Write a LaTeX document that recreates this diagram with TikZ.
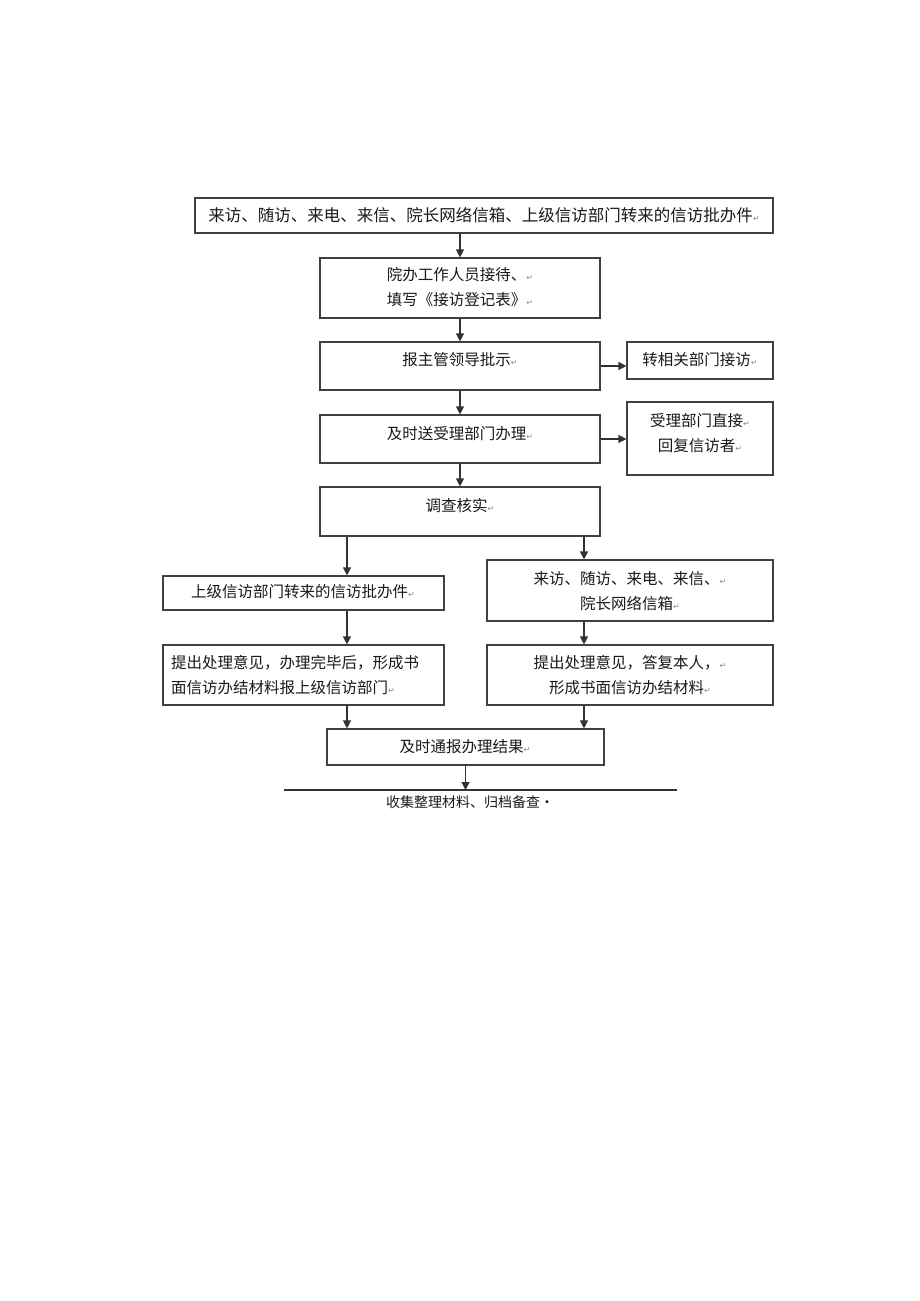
\documentclass[tikz,border=0pt]{standalone}
\usepackage{fontspec}
\setmainfont{Noto Sans CJK SC}
\newfontfamily\symfont{DejaVu Sans}
\usetikzlibrary{arrows.meta}
\newcommand\parmk{{\symfont\color{black!45}\fontsize{8}{8}\selectfont ↵}}
\begin{document}
\begin{tikzpicture}[x=1pt,y=-1pt,
  box/.style={draw=black!75, line width=1.2pt, rectangle, inner sep=0pt},
  txt/.style={font=\fontsize{15.5}{25}\selectfont, align=center, inner sep=0pt, text=black!90},
  arr/.style={draw=black!80, line width=1.3pt, -{Triangle[length=8pt,width=8pt]}},
  rule/.style={draw=black!80, line width=1.2pt}]
\fill[white] (0,0) rectangle (920,1301);
\useasboundingbox (0,0) rectangle (920,1301);
% boxes
\node[box, minimum width=578, minimum height=35] (b1) at (484,215.5) {};
\node[box, minimum width=280, minimum height=60] (b2) at (460,288) {};
\node[box, minimum width=280, minimum height=48] (b3) at (460,366) {};
\node[box, minimum width=146, minimum height=37] (sA) at (700,360.5) {};
\node[box, minimum width=280, minimum height=48] (b4) at (460,439) {};
\node[box, minimum width=146, minimum height=73] (sB) at (700,438.5) {};
\node[box, minimum width=280, minimum height=49] (b5) at (460,511.5) {};
\node[box, minimum width=281, minimum height=34] (L1) at (303.5,593) {};
\node[box, minimum width=286, minimum height=61] (R1) at (630,590.5) {};
\node[box, minimum width=281, minimum height=60] (L2) at (303.5,675) {};
\node[box, minimum width=286, minimum height=60] (R2) at (630,675) {};
\node[box, minimum width=277, minimum height=36] (F) at (465.5,747) {};
% texts
\node[txt, font=\fontsize{16.5}{25}\selectfont] (t1) at (484,215) {来访、随访、来电、来信、院长网络信箱、上级信访部门转来的信访批办件\parmk};
\node[txt] (t2) at (460,287) {院办工作人员接待、\parmk\\填写《接访登记表》\parmk};
\node[txt] (t3) at (460,360) {报主管领导批示\parmk};
\node[txt] (tA) at (700,360) {转相关部门接访\parmk};
\node[txt] (t4) at (460,434) {及时送受理部门办理\parmk};
\node[txt] (tB) at (700,433) {受理部门直接\parmk\\回复信访者\parmk};
\node[txt] (t5) at (460,506) {调查核实\parmk};
\node[txt] (tL1) at (303,592) {上级信访部门转来的信访批办件\parmk};
\node[txt] (tR1) at (630,591) {来访、随访、来电、来信、\parmk\\院长网络信箱\parmk};
\node[txt, align=left, anchor=west] (tL2) at (171,675) {提出处理意见，办理完毕后，形成书\\面信访办结材料报上级信访部门\parmk};
\node[txt] (tR2) at (630,675) {提出处理意见，答复本人，\parmk\\形成书面信访办结材料\parmk};
\node[txt] (tF) at (465,747) {及时通报办理结果\parmk};
% bottom rule and text
\coordinate (ll) at (284,790);
\coordinate (lr) at (677,790);
\draw[rule] (ll) -- (lr);
\node[txt, font=\fontsize{14}{20}\selectfont] (tE) at (470,802) {收集整理材料、归档备查•};
% column coordinates
\coordinate (cl) at (347,0);
\coordinate (cr) at (584,0);
% arrows
\draw[arr] (b1.south -| b2.north) -- (b2.north);
\draw[arr] (b2.south) -- (b3.north);
\draw[arr] (b3.south) -- (b4.north);
\draw[arr] (b4.south) -- (b5.north);
\draw[arr] (b3.east) -- (b3.east -| sA.west);
\draw[arr] (b4.east) -- (b4.east -| sB.west);
\draw[arr] (b5.south -| cl) -- (L1.north -| cl);
\draw[arr] (b5.south -| cr) -- (R1.north -| cr);
\draw[arr] (L1.south -| cl) -- (L2.north -| cl);
\draw[arr] (R1.south -| cr) -- (R2.north -| cr);
\draw[arr] (L2.south -| cl) -- (F.north -| cl);
\draw[arr] (R2.south -| cr) -- (F.north -| cr);
\draw[arr] (F.south) -- (F.south |- ll);
\end{tikzpicture}
\end{document}
